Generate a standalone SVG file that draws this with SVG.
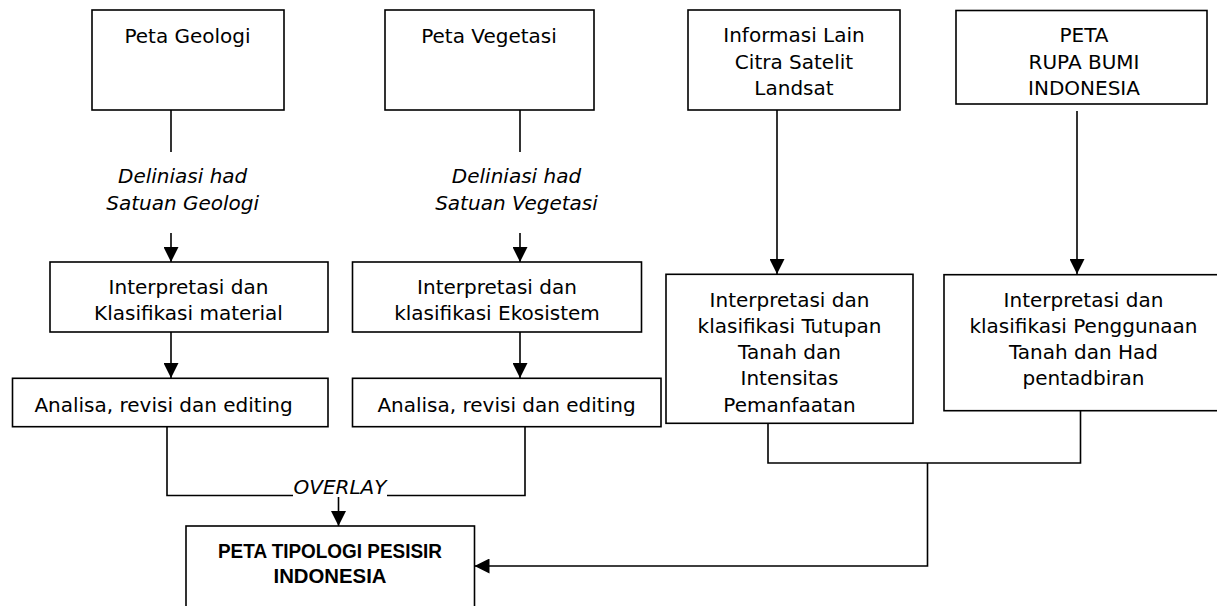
<svg xmlns="http://www.w3.org/2000/svg" width="1217" height="606" viewBox="0 0 1217 606">
<defs>
<style>
.box{fill:#fff;stroke:#000;stroke-width:1.6}
.t{font-family:"DejaVu Sans","Liberation Sans",sans-serif;font-size:20px;fill:#000;text-anchor:middle}
.i{font-style:italic}
.b{font-family:"Liberation Sans",Arial,sans-serif;font-weight:bold;font-size:21px;fill:#000;text-anchor:middle}
.c{fill:none;stroke:#000;stroke-width:1.6}
</style>
<marker id="ah" markerUnits="userSpaceOnUse" markerWidth="15" markerHeight="15" refX="15" refY="7.5" orient="auto">
<path d="M0,0 L15,7.5 L0,15 z" fill="#000"/>
</marker>
</defs>
<rect width="1217" height="606" fill="#fff"/>

<g id="connectors">
<line class="c" x1="171" y1="110" x2="171" y2="152"/>
<line class="c" x1="171" y1="233" x2="171" y2="262" marker-end="url(#ah)"/>
<line class="c" x1="520" y1="110" x2="520" y2="152"/>
<line class="c" x1="520" y1="233" x2="520" y2="262" marker-end="url(#ah)"/>
<line class="c" x1="171" y1="332" x2="171" y2="378" marker-end="url(#ah)"/>
<line class="c" x1="520" y1="332" x2="520" y2="378" marker-end="url(#ah)"/>
<line class="c" x1="777" y1="110" x2="777" y2="274" marker-end="url(#ah)"/>
<line class="c" x1="1077" y1="111" x2="1077" y2="274" marker-end="url(#ah)"/>
<path class="c" d="M167,427 V495.5 H293"/>
<path class="c" d="M387,495.5 H525 V427"/>
<line class="c" x1="338.5" y1="497" x2="338.5" y2="526" marker-end="url(#ah)"/>
<path class="c" d="M768,410 V463 H1080.5 V411"/>
<path class="c" d="M927.5,463 V566 H474.5" marker-end="url(#ah)"/>
</g>

<g id="peta-geologi">
<rect class="box" x="92" y="10" width="192" height="100"/>
<text class="t" x="187.5" y="42.5">Peta Geologi</text>
</g>
<g id="peta-vegetasi">
<rect class="box" x="385" y="10" width="209" height="100"/>
<text class="t" x="489" y="42.5">Peta Vegetasi</text>
</g>
<g id="informasi-lain">
<rect class="box" x="688" y="10" width="212" height="100"/>
<text class="t" x="794" y="42">Informasi Lain</text>
<text class="t" x="794" y="68.5">Citra Satelit</text>
<text class="t" x="794" y="95">Landsat</text>
</g>
<g id="peta-rupa-bumi">
<rect class="box" x="956" y="10.5" width="251" height="93.5"/>
<text class="t" x="1084" y="42">PETA</text>
<text class="t" x="1084" y="68.5">RUPA BUMI</text>
<text class="t" x="1084" y="95">INDONESIA</text>
</g>
<g id="label-geologi">
<text class="t i" x="182.7" y="183">Deliniasi had</text>
<text class="t i" x="182.7" y="209.5">Satuan Geologi</text>
</g>
<g id="label-vegetasi">
<text class="t i" x="516.5" y="183">Deliniasi had</text>
<text class="t i" x="516.5" y="209.5">Satuan Vegetasi</text>
</g>
<g id="interp-material">
<rect class="box" x="50" y="262" width="278" height="70"/>
<text class="t" x="188.5" y="293.5">Interpretasi dan</text>
<text class="t" x="188.5" y="320">Klasifikasi material</text>
</g>
<g id="interp-ekosistem">
<rect class="box" x="352.5" y="262" width="289" height="70"/>
<text class="t" x="497" y="293.5">Interpretasi dan</text>
<text class="t" x="497" y="320">klasifikasi Ekosistem</text>
</g>
<g id="analisa-geologi">
<rect class="box" x="12.5" y="378.3" width="315.5" height="48.4"/>
<text class="t" x="163.5" y="411.7">Analisa, revisi dan editing</text>
</g>
<g id="analisa-vegetasi">
<rect class="box" x="352.5" y="378.3" width="308.5" height="48.4"/>
<text class="t" x="506.5" y="411.7">Analisa, revisi dan editing</text>
</g>
<g id="interp-tutupan">
<rect class="box" x="666" y="274.3" width="247" height="149"/>
<text class="t" x="789.5" y="306.7">Interpretasi dan</text>
<text class="t" x="789.5" y="332.9">klasifikasi Tutupan</text>
<text class="t" x="789.5" y="359">Tanah dan</text>
<text class="t" x="789.5" y="385.3">Intensitas</text>
<text class="t" x="789.5" y="411.6">Pemanfaatan</text>
</g>
<g id="interp-penggunaan">
<rect class="box" x="944" y="274.7" width="280" height="136"/>
<text class="t" x="1083.5" y="306.7">Interpretasi dan</text>
<text class="t" x="1083.5" y="333">klasifikasi Penggunaan</text>
<text class="t" x="1083.5" y="359">Tanah dan Had</text>
<text class="t" x="1083.5" y="385.3">pentadbiran</text>
</g>
<g id="overlay-label">
<text class="t i" x="293.5" y="494" style="text-anchor:start">OVERLAY</text>
</g>
<g id="peta-tipologi">
<rect class="box" x="186" y="526" width="288.5" height="90"/>
<text class="b" x="330" y="557.5" textLength="224" lengthAdjust="spacingAndGlyphs">PETA TIPOLOGI PESISIR</text>
<text class="b" x="330" y="582.5" textLength="113" lengthAdjust="spacingAndGlyphs">INDONESIA</text>
</g>
</svg>
